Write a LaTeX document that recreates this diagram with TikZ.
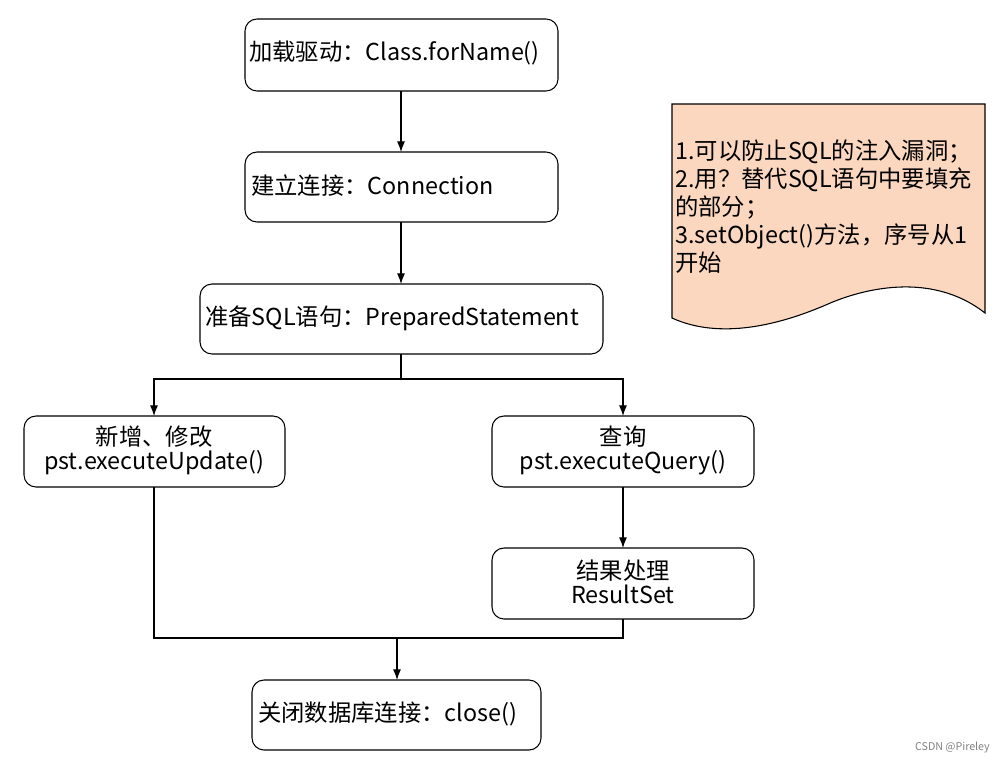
\documentclass[tikz,border=0pt]{standalone}
\usepackage{fontspec}
\setmainfont{Noto Sans CJK SC}
\usetikzlibrary{arrows.meta}
\begin{document}
\begin{tikzpicture}[x=0.75pt,y=-0.75pt,
  box/.style={draw,rounded corners=9pt,line width=0.8pt},
  txt/.style={font=\fontsize{17.5}{18}\selectfont,align=center,inner sep=0},
  arr/.style={-{Latex[length=8pt,width=6pt]},line width=0.8pt},
  ln/.style={line width=0.8pt}]
\useasboundingbox (0,0) rectangle (1006,764);
\draw[box] (245,19) rectangle (558,91);
\node[txt,anchor=west] (t1) at (249,53) {加载驱动：Class.forName()};
\coordinate (b1t) at (401,19); \coordinate (b1b) at (401,91);
\draw[box] (245,152) rectangle (558,222);
\node[txt,anchor=west] (t2) at (251,186) {建立连接：Connection};
\coordinate (b2t) at (401,152); \coordinate (b2b) at (401,222);
\draw[box] (200,284) rectangle (603,354);
\node[txt,anchor=west] (t3) at (205,318) {准备SQL语句：PreparedStatement};
\coordinate (b3t) at (401,284); \coordinate (b3b) at (401,354);
\draw[box] (24,416) rectangle (285,487);
\node[txt] (t4) at (154,450) {新增、修改\\pst.executeUpdate()};
\coordinate (b4t) at (154,416); \coordinate (b4b) at (154,487);
\draw[box] (492,416) rectangle (754,487);
\node[txt] (t5) at (623,450) {查询\\pst.executeQuery()};
\coordinate (b5t) at (623,416); \coordinate (b5b) at (623,487);
\draw[box] (492,548) rectangle (754,619);
\node[txt] (t6) at (623,582) {结果处理\\ResultSet};
\coordinate (b6t) at (623,548); \coordinate (b6b) at (623,619);
\draw[box] (252,680) rectangle (541,750);
\node[txt,anchor=west] (t7) at (258,714) {关闭数据库连接：close()};
\coordinate (b7t) at (397,680);

\draw[arr] (b1b) -- (b2t);
\draw[arr] (b2b) -- (b3t);
\coordinate (sp) at (401,379);
\draw[ln] (b3b) -- (sp);
\draw[arr] (sp) -| (b4t);
\draw[arr] (sp) -| (b5t);
\draw[arr] (b5b) -- (b6t);
\coordinate (j) at (397,638);
\draw[ln] (b4b) |- (623,638) -- (b6b);
\draw[arr] (j) -- (b7t);

\draw[line width=0.8pt,fill={rgb,255:red,250;green,215;blue,190}]
  (672,104) -- (985,104) -- (985,313)
  .. controls (930,270) and (860,290) .. (828,304)
  .. controls (780,325) and (720,340) .. (672,318) -- cycle;
\node[font=\fontsize{17.5}{21}\selectfont,align=left,inner sep=0,anchor=north west] (note) at (675,140)
  {1.可以防止SQL的注入漏洞；\\2.用？替代SQL语句中要填充\\的部分；\\3.setObject()方法，序号从1\\开始};
\node[font=\fontsize{8}{10}\selectfont,text=gray,anchor=east,inner sep=0] (wm) at (990,747) {CSDN @Pireley};
\end{tikzpicture}
\end{document}
